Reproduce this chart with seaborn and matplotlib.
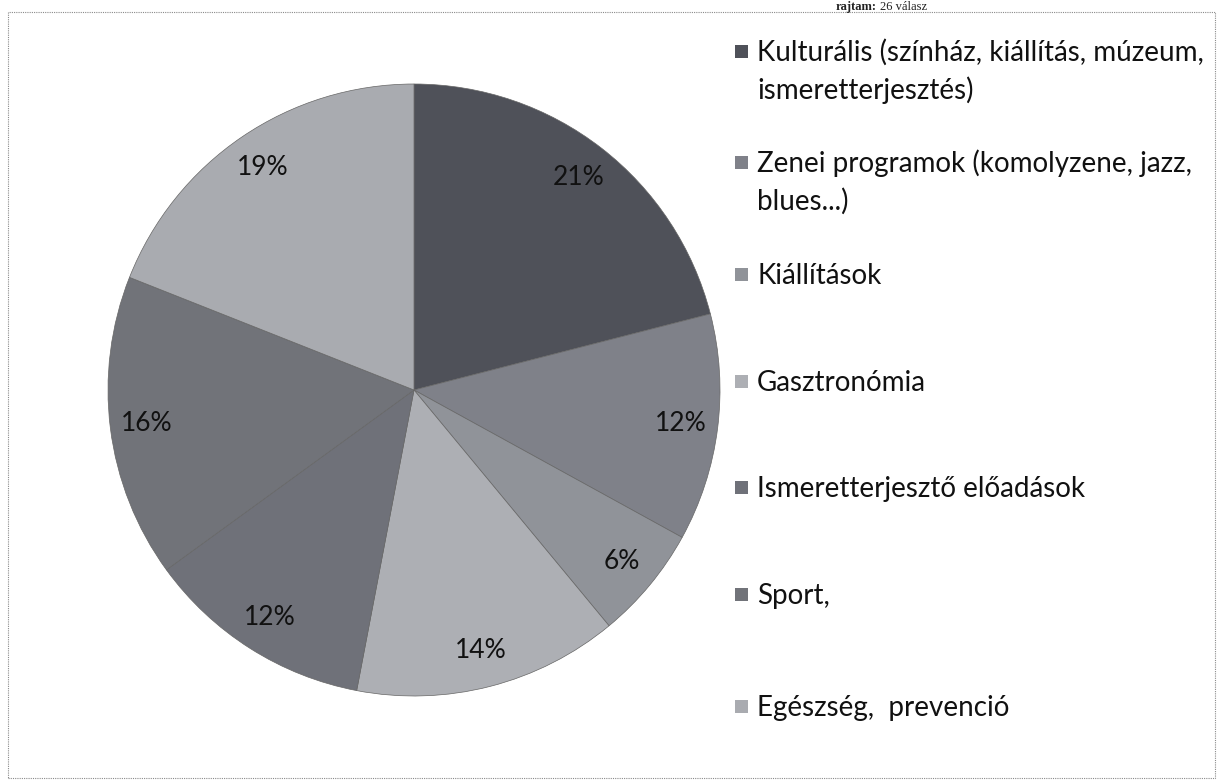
import matplotlib
matplotlib.use("Agg")
import matplotlib.pyplot as plt
import seaborn as sns
from matplotlib.patches import Rectangle

# Adatok
kategoriak = [
    "Kulturális (színház, kiállítás, múzeum,\nismeretterjesztés)",
    "Zenei programok (komolyzene, jazz,\nblues...)",
    "Kiállítások",
    "Gasztronómia",
    "Ismeretterjesztő előadások",
    "Sport,",
    "Egészség,  prevenció",
]
szazalekok = [21, 12, 6, 14, 12, 16, 19]
szinek = ["#4f5159", "#7f8189", "#909399", "#adafb4", "#6f7179", "#717379", "#a9abb0"]

sns.set_style("white")
plt.rcParams['font.family'] = ['Lato', 'DejaVu Sans']

W, H = 1223, 783
fig = plt.figure(figsize=(W / 100, H / 100), dpi=100)

# keret
fig.add_artist(Rectangle((8 / W, 5 / H), 1207 / W, 766 / H,
                         transform=fig.transFigure, fill=False,
                         edgecolor="#8a8a8a", lw=0.8, linestyle=(0, (1, 1))))

# a kép tetején levágott cím maradéka
fig.text(836 / W, 1 - 1 / H, "rajtam:", fontsize=9, fontweight="bold",
         family="Liberation Serif", va="top", color="#222222")
fig.text(880 / W, 1 - 1 / H, "26 válasz", fontsize=9,
         family="Liberation Serif", va="top", color="#222222")

# Kördiagram
ax = fig.add_axes([108 / W, 1 - 696 / H, 612 / W, 612 / H])
wedges, texts, autotexts = ax.pie(
    szazalekok, colors=szinek, startangle=90, counterclock=False,
    autopct=lambda p: f"{p:.0f}%", pctdistance=0.88,
    wedgeprops=dict(edgecolor="#666666", linewidth=0.5),
    textprops=dict(fontsize=19, color="#111111"))
ax.set_xlim(-1, 1)
ax.set_ylim(-1, 1)
ax.set_aspect("equal")

# Jelmagyarázat
alapvonal = [61, 172, 284, 391, 497, 604, 716]
for lab, c, yb in zip(kategoriak, szinek, alapvonal):
    fig.add_artist(Rectangle((735 / W, 1 - (yb - 3) / H), 13 / W, 13 / H,
                             transform=fig.transFigure, facecolor=c, edgecolor="none"))
    for i, sor in enumerate(lab.split("\n")):
        fig.text(757 / W, 1 - (yb + i * 38) / H, sor, fontsize=20,
                 va="baseline", color="#111111")

plt.savefig("out.png", dpi=100)
